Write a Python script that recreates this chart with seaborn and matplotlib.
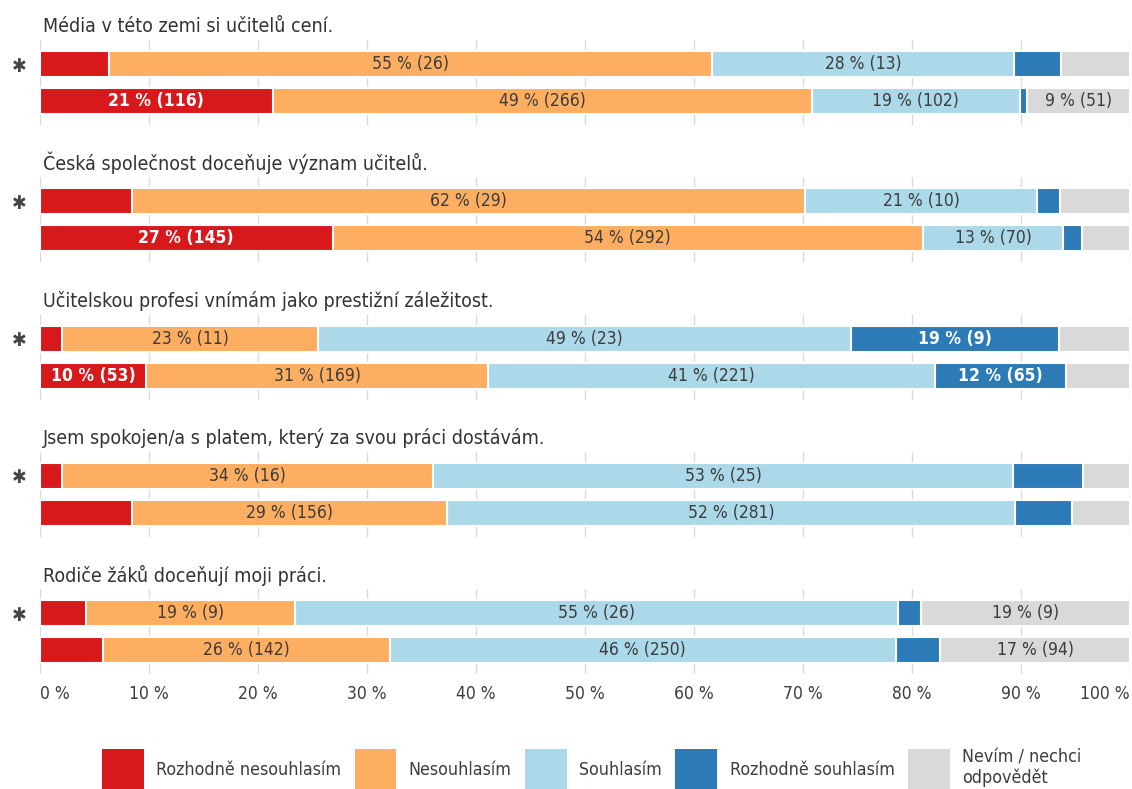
import os
import numpy as np
import pandas as pd
import matplotlib
matplotlib.use("Agg")
import matplotlib.pyplot as plt
from matplotlib import font_manager as fm
from matplotlib.patches import Patch
import seaborn as sns

# ---------------- data ----------------
titles = [
    "Média v této zemi si učitelů cení.",
    "Česká společnost doceňuje význam učitelů.",
    "Učitelskou profesi vnímám jako prestižní záležitost.",
    "Jsem spokojen/a s platem, který za svou práci dostávám.",
    "Rodiče žáků doceňují moji práci.",
]
categories = ["Rozhodně nesouhlasím", "Nesouhlasím", "Souhlasím",
              "Rozhodně souhlasím", "Nevím / nechci\nodpovědět"]
colors = ["#d7191c", "#fdae61", "#abd9e9", "#2c7bb6", "#d9d9d9"]
row_labels = ["✱", ""]

# percentages (row marked with asterisk)
pct_star = [
    [6.4, 55.3, 27.7, 4.3, 6.3],
    [8.5, 61.7, 21.3, 2.1, 6.4],
    [2.1, 23.4, 48.9, 19.1, 6.5],
    [2.1, 34.0, 53.2, 6.4, 4.3],
    [4.3, 19.1, 55.3, 2.1, 19.2],
]
cnt_star = [
    [3, 26, 13, 2, 3],
    [4, 29, 10, 1, 3],
    [1, 11, 23, 9, 3],
    [1, 16, 25, 3, 2],
    [2, 9, 26, 1, 9],
]
# percentages (second row)
pct_all = [
    [21.4, 49.4, 19.1, 0.7, 9.4],
    [26.9, 54.1, 12.9, 1.7, 4.4],
    [9.8, 31.3, 41.0, 12.0, 5.9],
    [8.5, 28.9, 52.1, 5.2, 5.3],
    [5.8, 26.3, 46.4, 4.1, 17.4],
]
cnt_all = [
    [116, 266, 102, 4, 51],
    [145, 292, 70, 9, 24],
    [53, 169, 221, 65, 32],
    [46, 156, 281, 28, 29],
    [31, 142, 250, 22, 94],
]
tick_values = [0, 10, 20, 30, 40, 50, 60, 70, 80, 90, 100]
tick_labels = [f"{v} %" for v in tick_values]
label_min = 9

# ---------------- style ----------------
sns.set_theme(style="white")


def pick_font():
    keys = ["LiberationSansNarrow-Regular", "DejaVuSansCondensed.ttf",
            "RobotoCondensed-Regular"]
    for key in keys:
        for f in fm.fontManager.ttflist:
            if key in os.path.basename(f.fname):
                return f.name, f.stretch
    return "DejaVu Sans", "normal"


fname, fstretch = pick_font()
plt.rcParams["font.family"] = [fname, "DejaVu Sans"]
plt.rcParams["font.stretch"] = fstretch

TXT = "#3c3c3c"
W, H = 1132, 789
fig = plt.figure(figsize=(W / 100, H / 100), dpi=100)
fig.patch.set_facecolor("white")

left_px, right_px = 39.5, 1130
pitch = 37.0
ax_h = 2.3 * pitch

for i in range(5):
    top = 40 + 137.25 * i
    ax = fig.add_axes([left_px / W, 1 - (top + ax_h) / H,
                       (right_px - left_px) / W, ax_h / H])
    pcts = np.array([pct_star[i], pct_all[i]])
    cnts = [cnt_star[i], cnt_all[i]]
    cum = pcts.cumsum(axis=1)
    for k in range(4, -1, -1):
        df = pd.DataFrame({"value": cum[:, k], "row": ["A", "B"]})
        sns.barplot(data=df, x="value", y="row", orient="h", color=colors[k],
                    saturation=1, width=0.7, edgecolor="white", linewidth=1.5,
                    errorbar=None, ax=ax)
    for j in range(2):
        for k in range(5):
            p = pcts[j, k]
            if p >= label_min:
                white = k in (0, 3)
                ax.text(cum[j, k] - p / 2, j, f"{round(p)} % ({cnts[j][k]})",
                        ha="center", va="center", fontsize=12.5,
                        color="white" if white else TXT,
                        fontweight="bold" if white else "normal")
    ax.set_xlim(0, 100)
    ax.set_ylim(1.65, -0.65)
    ax.set_yticks([0, 1])
    ax.set_yticklabels(row_labels, family="DejaVu Sans", fontsize=14,
                       color="#444444", fontweight="bold")
    ax.tick_params(axis="y", length=0, pad=9)
    ax.set_xticks(tick_values)
    ax.grid(axis="x", color="#dadada", linewidth=1)
    ax.grid(axis="y", visible=False)
    ax.set_axisbelow(True)
    ax.set_xlabel("")
    ax.set_ylabel("")
    sns.despine(ax=ax, left=True, bottom=True)
    if i < 4:
        ax.tick_params(axis="x", labelbottom=False, length=0)
    else:
        ax.set_xticklabels(tick_labels, fontsize=12.5, color=TXT)
        ax.tick_params(axis="x", length=0, pad=8)
        tl = ax.get_xticklabels()
        tl[0].set_ha("left")
        tl[-1].set_ha("right")
    ax.text(0.003, 1 + 14 / ax_h, titles[i], transform=ax.transAxes,
            ha="left", va="center", fontsize=14, color="#333333")

handles = [Patch(facecolor=c, edgecolor="none", label=l)
           for c, l in zip(colors, categories)]
leg = fig.legend(handles=handles, loc="upper left",
                 bbox_to_anchor=(102 / W, 1 - 748 / H), ncol=5, frameon=False,
                 fontsize=12.8, handlelength=2.35, handleheight=3.25,
                 handletextpad=0.7, columnspacing=0.75, borderpad=0,
                 borderaxespad=0)
for t in leg.get_texts():
    t.set_color(TXT)

fig.savefig("out.png", dpi=100, facecolor="white")
